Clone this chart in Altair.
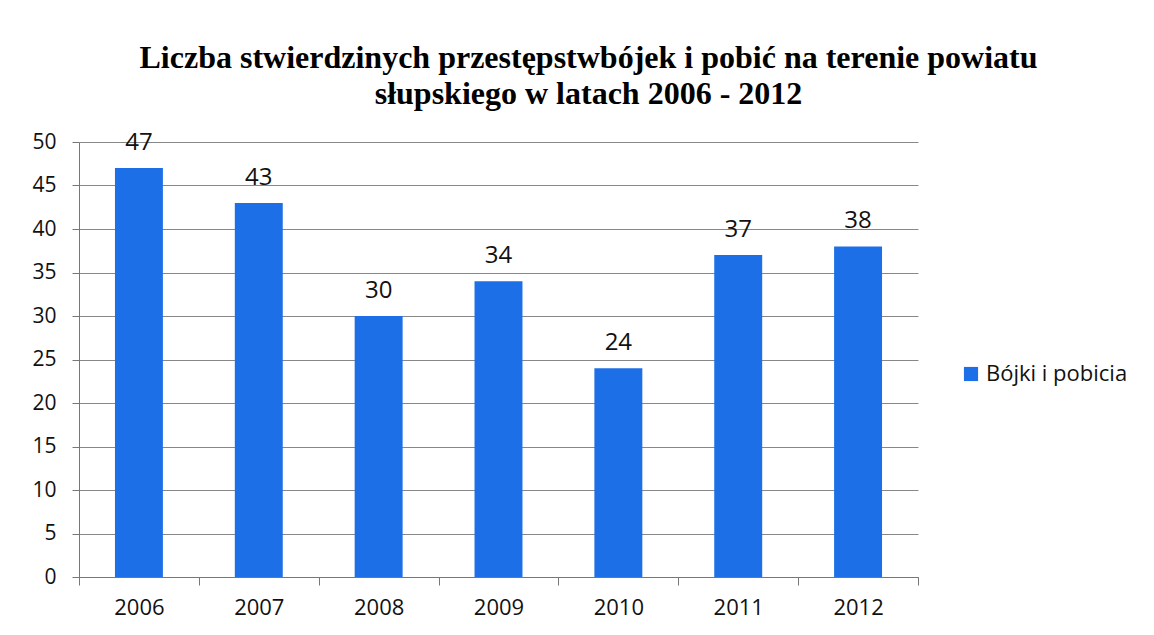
import altair as alt
import pandas as pd

years = ["2006", "2007", "2008", "2009", "2010", "2011", "2012"]
values = [47, 43, 30, 34, 24, 37, 38]
series = ["Bójki i pobicia"] * len(years)

df = pd.DataFrame({"rok": years, "liczba": values, "seria": series})

FONT = "Open Sans"
BLUE = "#1c6fe6"

base = alt.Chart(df).encode(
    x=alt.X(
        "rok:N",
        sort=years,
        title=None,
        scale=alt.Scale(paddingInner=0, paddingOuter=0),
        axis=alt.Axis(
            labelAngle=0,
            labelFont=FONT,
            labelFontSize=22,
            labelColor="#111",
            labelPadding=12,
            tickBand="extent",
            tickSize=8,
            tickColor="#777",
            domainColor="#777",
            grid=False,
        ),
    ),
    y=alt.Y(
        "liczba:Q",
        title=None,
        scale=alt.Scale(domain=[0, 50]),
        axis=alt.Axis(
            values=list(range(0, 51, 5)),
            labelFont=FONT,
            labelFontSize=21,
            labelColor="#111",
            labelPadding=16,
            tickSize=7,
            tickColor="#777",
            domainColor="#777",
            gridColor="#888",
            gridWidth=1,
        ),
    ),
)

bars = base.mark_bar(color=BLUE, width=alt.RelativeBandSize(0.4)).encode(
    color=alt.Color(
        "seria:N",
        scale=alt.Scale(range=[BLUE]),
        legend=alt.Legend(
            title=None,
            orient="none",
            legendX=881,
            legendY=221,
            symbolType="square",
            symbolSize=200,
            symbolStrokeWidth=0,
            labelFont=FONT,
            labelFontSize=22,
            labelColor="#111",
        ),
    )
)

labels = base.mark_text(
    baseline="alphabetic", dy=-18, font=FONT, fontSize=24, color="#111"
).encode(text="liczba:Q")

chart = (
    alt.layer(bars, labels)
    .properties(
        width=839,
        height=435,
        autosize=alt.AutoSizeParams(type="none"),
        padding={"left": 71, "top": 134, "right": 228, "bottom": 50},
        title=alt.TitleParams(
            text=[
                "Liczba stwierdzinych przestępstwbójek i pobić na terenie powiatu",
                "słupskiego w latach 2006 - 2012",
            ],
            font="Liberation Serif",
            fontSize=32,
            fontWeight="bold",
            color="#000",
            lineHeight=36,
            anchor="middle",
            frame="group",
            dx=90,
            offset=20,
        ),
    )
    .configure_view(stroke=None)
)

chart.save("out.html", embed_options={"renderer": "svg", "actions": False})
